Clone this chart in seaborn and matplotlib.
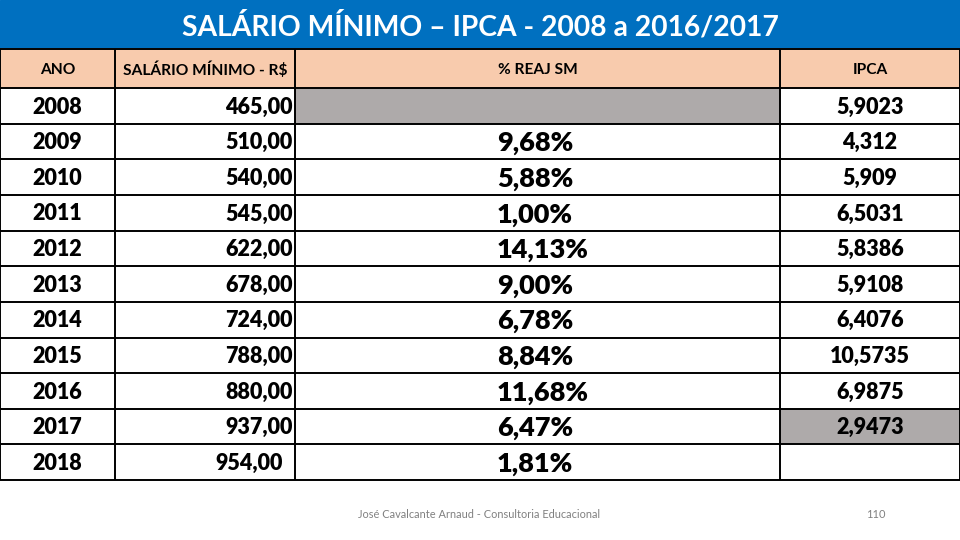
import numpy as np
import pandas as pd
import matplotlib
matplotlib.use("Agg")
import matplotlib.pyplot as plt
import seaborn as sns

sns.set_theme(style="white")
plt.rcParams['font.family'] = ['Lato', 'DejaVu Sans']

# ---- data ----
title = "SALÁRIO MÍNIMO – IPCA - 2008 a 2016/2017"
headers = ["ANO", "SALÁRIO MÍNIMO - R$", "% REAJ SM", "IPCA"]
anos = ["2008", "2009", "2010", "2011", "2012", "2013", "2014", "2015", "2016", "2017", "2018"]
salario = ["465,00", "510,00", "540,00", "545,00", "622,00", "678,00", "724,00",
           "788,00", "880,00", "937,00", "954,00"]
reaj = ["", "9,68%", "5,88%", "1,00%", "14,13%", "9,00%", "6,78%", "8,84%",
        "11,68%", "6,47%", "1,81%"]
ipca = ["5,9023", "4,312", "5,909", "6,5031", "5,8386", "5,9108", "6,4076",
        "10,5735", "6,9875", "2,9473", ""]
footer = "José Cavalcante Arnaud - Consultoria Educacional"
page = "110"

# fill codes per logical cell: 0 white, 1 grey, 2 peach
n = len(anos)
codes = np.zeros((n + 1, 4), dtype=int)
codes[0, :] = 2
codes[1, 2] = 1          # 2008 % REAJ grey
codes[1 + 9, 3] = 1      # 2017 IPCA grey

col_units = [23, 36, 97, 36]          # 5 px units
row_units = [11] + [10] * n           # header slightly taller
grid = np.repeat(np.repeat(codes, row_units, axis=0), col_units, axis=1)
df = pd.DataFrame(grid)

blue = "#0070C0"
peach = "#F8CBAD"
grey = "#AEAAAA"

fig = plt.figure(figsize=(9.6, 5.4), dpi=100)
fig.patch.set_facecolor("white")

# title bar
tax = fig.add_axes([0, 1 - 48 / 540, 1, 48 / 540])
tax.set_axis_off()
tax.add_patch(plt.Rectangle((0, 0), 1, 1, transform=tax.transAxes, color=blue))
tax.text(0.5, 0.46, title, transform=tax.transAxes, ha="center", va="center",
         color="white", fontsize=20.3, fontweight="bold")

# table
ax = fig.add_axes([0, 1 - 480 / 540, 1, (480 - 49) / 540])
cmap = matplotlib.colors.ListedColormap(["white", grey, peach])
sns.heatmap(df, ax=ax, cmap=cmap, vmin=-0.5, vmax=2.5, cbar=False,
            linewidths=0, xticklabels=False, yticklabels=False, rasterized=True)

xe = np.concatenate([[0], np.cumsum(col_units)])
ye = np.concatenate([[0], np.cumsum(row_units)])
ax.hlines(ye, 0, xe[-1], colors="black", linewidth=1.4, clip_on=False)
ax.vlines(xe, 0, ye[-1], colors="black", linewidth=1.4, clip_on=False)

xc = (xe[:-1] + xe[1:]) / 2
yc = (ye[:-1] + ye[1:]) / 2

for j, h in enumerate(headers):
    ax.text(xc[j], yc[0] + 0.3, h, ha="center", va="center", fontsize=11.2,
            fontweight="bold", color="black")

for i in range(n):
    y = yc[i + 1] + 0.3
    ax.text(xc[0], y, anos[i], ha="center", va="center", fontsize=15.5,
            fontweight="heavy", color="black")
    xr = 58.6 if i < n - 1 else 56.6
    ax.text(xr, y, salario[i], ha="right", va="center", fontsize=15.5,
            fontweight="heavy", color="black")
    if reaj[i]:
        ax.text(99.4, y + 0.2, reaj[i], ha="left", va="center", fontsize=19.5,
                fontweight="heavy", color="black")
    if ipca[i]:
        ax.text(174, y, ipca[i], ha="center", va="center", fontsize=15.5,
                fontweight="heavy", color="black")

fig.text(358 / 960, 1 - 515 / 540, footer, ha="left", va="center",
         fontsize=7.9, color="#808080")
fig.text(876 / 960, 1 - 515 / 540, page, ha="center", va="center",
         fontsize=7.9, color="#808080")

fig.savefig("out.png", dpi=100, facecolor="white")
